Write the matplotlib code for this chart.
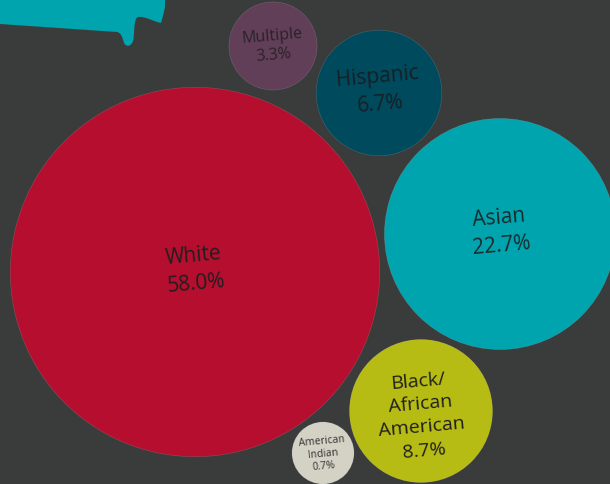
import matplotlib
matplotlib.use("Agg")
import matplotlib.pyplot as plt
from matplotlib.patches import Circle, PathPatch
from matplotlib.path import Path
import numpy as np

# ---- data ----
categories = ["White", "Asian", "Black/\nAfrican\nAmerican", "Hispanic", "Multiple", "American\nIndian"]
shares = [58.0, 22.7, 8.7, 6.7, 3.3, 0.7]
labels = [f"{c}\n{v:.1f}%" for c, v in zip(categories, shares)]

# ---- layout / style ----
centers = [(195, 273), (500, 235), (421, 412), (379, 94), (273, 47), (323, 454)]
text_dy = [-3, -3, 4, -3, -1, 0]
colors = ["#b50e2f", "#00a4ae", "#b6bc14", "#004a5e", "#623f58", "#d4d2c5"]
fontsizes = [15, 15, 14, 15, 11.5, 7.5]
spacings = [1.4, 1.4, 1.38, 1.4, 1.3, 1.15]
text_colors = ["#1f1f1f", "#1a2a2c", "#1f1f1f", "#152024", "#2a2228", "#333333"]
BG = "#3a3b3b"
SCALE = 24.25
MIN_R = 31

fig = plt.figure(figsize=(6.10, 4.85), dpi=100)
fig.patch.set_facecolor(BG)
ax = fig.add_axes([0, 0, 1, 1])
ax.set_facecolor(BG)
ax.set_xlim(0, 610)
ax.set_ylim(485, 0)
ax.set_aspect("equal")
ax.axis("off")

# decorative teal speech-bubble shape at top-left
verts = [(-5, -5), (165, -5), (165, 8), (163, 18), (161, 24),
         (152, 22), (145, 17), (138, 18), (133, 20), (135, 35), (133, 42),
         (131, 48), (126, 48), (124, 44), (122, 37), (121, 34), (117, 33),
         (0, 25), (-5, -5)]
codes = [Path.MOVETO, Path.LINETO, Path.LINETO, Path.CURVE3, Path.CURVE3,
         Path.CURVE4, Path.CURVE4, Path.CURVE4, Path.CURVE4, Path.CURVE4, Path.CURVE4,
         Path.CURVE4, Path.CURVE4, Path.CURVE4, Path.CURVE4, Path.CURVE4, Path.CURVE4,
         Path.LINETO, Path.CLOSEPOLY]
ax.add_patch(PathPatch(Path(verts, codes), facecolor="#00a4ae", edgecolor="none"))

for (cx, cy), dy, v, col, lab, fs, ls, tc in zip(centers, text_dy, shares, colors, labels,
                                                 fontsizes, spacings, text_colors):
    r = max(SCALE * np.sqrt(v), MIN_R)
    ax.add_patch(Circle((cx, cy), r, facecolor=col, edgecolor=(1, 1, 1, 0.18), linewidth=0.4))
    ax.text(cx, cy + dy, lab, ha="center", va="center", rotation=5,
            rotation_mode="anchor", fontsize=fs, color=tc,
            family=["Open Sans", "DejaVu Sans"], linespacing=ls)

fig.savefig("out.png", dpi=100, facecolor=BG)
